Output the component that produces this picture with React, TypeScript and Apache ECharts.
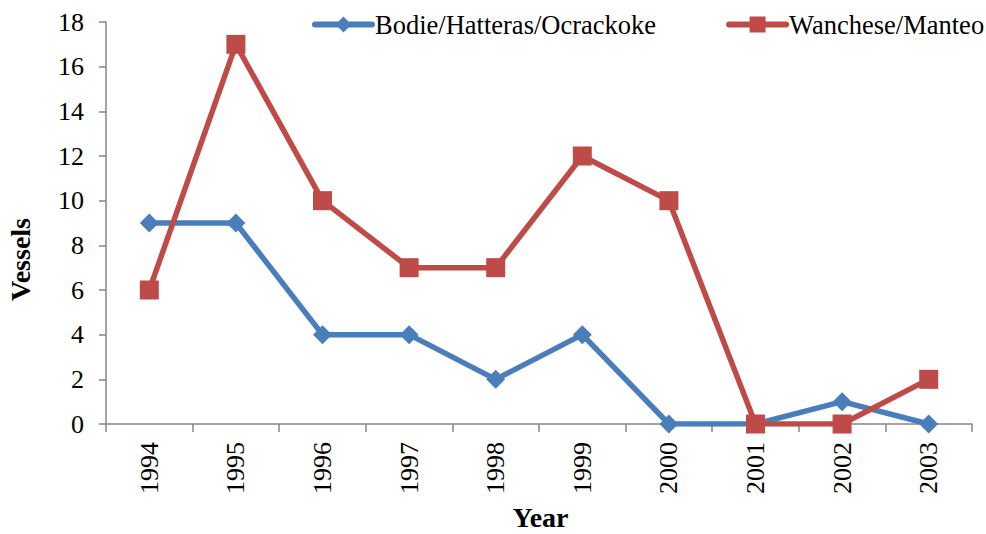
import React, { useEffect, useRef } from "react";
import * as echarts from "echarts";

const years = ["1994", "1995", "1996", "1997", "1998", "1999", "2000", "2001", "2002", "2003"];
const bodie = [9, 9, 4, 4, 2, 4, 0, 0, 1, 0];
const wanchese = [6, 17, 10, 7, 7, 12, 10, 0, 0, 2];
const seriesNames = ["Bodie/Hatteras/Ocrackoke", "Wanchese/Manteo"];

const FONT = "'Liberation Serif', 'Times New Roman', serif";
const BLUE = "#4A7EBB";
const RED = "#BE4B48";

export default function App() {
  const ref = useRef<HTMLDivElement>(null);
  useEffect(() => {
    const chart = echarts.init(ref.current!, null, { renderer: "svg" });
    chart.setOption({
      animation: false,
      textStyle: { fontFamily: FONT },
      grid: { left: 106, right: 14, top: 22, bottom: 110, containLabel: false },
      legend: {
        left: 312,
        top: 11,
        width: 674,
        padding: 0,
        itemGap: 70,
        itemWidth: 57,
        itemHeight: 20,
        lineStyle: { width: 6, cap: "round" },
        textStyle: { fontFamily: FONT, fontSize: 26.5, color: "#000", padding: [0, 0, 0, -2] },
        data: seriesNames,
      },
      xAxis: {
        type: "category",
        data: years,
        boundaryGap: true,
        axisLine: { lineStyle: { color: "#868686", width: 1.5 } },
        axisTick: { show: true, length: 8, alignWithLabel: false, lineStyle: { color: "#868686", width: 1.5 } },
        axisLabel: { rotate: 90, fontFamily: FONT, fontSize: 26, color: "#000", margin: 18 },
        splitLine: { show: false },
      },
      yAxis: {
        type: "value",
        min: 0,
        max: 18,
        interval: 2,
        axisLine: { show: true, lineStyle: { color: "#868686", width: 1.5 } },
        axisTick: { show: true, length: 7, lineStyle: { color: "#868686", width: 1.5 } },
        axisLabel: { fontFamily: FONT, fontSize: 26, color: "#000", margin: 22 },
        splitLine: { show: false },
      },
      graphic: [
        {
          type: "text",
          x: 20.5,
          y: 259.5,
          rotation: Math.PI / 2,
          style: {
            text: "Vessels",
            font: `bold 28px ${FONT}`,
            fill: "#000",
            align: "center",
            verticalAlign: "middle",
          },
        },
        {
          type: "text",
          x: 540.5,
          y: 517,
          style: {
            text: "Year",
            font: `bold 28px ${FONT}`,
            fill: "#000",
            align: "center",
            verticalAlign: "middle",
          },
        },
      ],
      series: [
        {
          name: seriesNames[0],
          type: "line",
          data: bodie,
          color: BLUE,
          symbol: "diamond",
          symbolSize: 19,
          lineStyle: { width: 5.5, color: BLUE },
          itemStyle: { color: BLUE },
          z: 3,
        },
        {
          name: seriesNames[1],
          type: "line",
          data: wanchese,
          color: RED,
          symbol: "rect",
          symbolSize: 19,
          lineStyle: { width: 5.5, color: RED },
          itemStyle: { color: RED },
          z: 4,
        },
      ],
    });
    return () => chart.dispose();
  }, []);
  return <div ref={ref} style={{ width: 986, height: 534, position: "absolute", left: 0, top: 0 }} />;
}
